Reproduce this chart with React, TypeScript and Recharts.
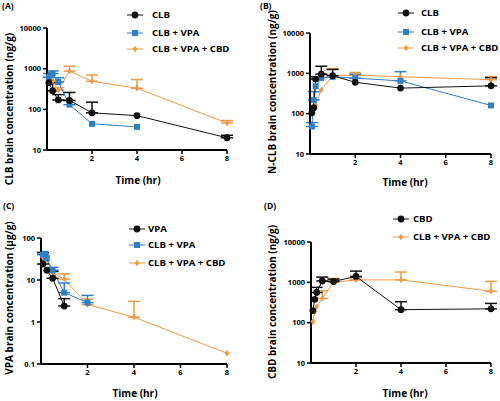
import { LineChart, Line, XAxis, YAxis, ErrorBar } from 'recharts'

const FONT = '"Open Sans", "Liberation Sans", sans-serif'
const BLACK = '#111111'
const BLUE = '#2f7fc6'
const ORANGE = '#ef9a45'

const xTicks = [2, 4, 6, 8]

// (A) CLB brain concentration, ng/g
const aClbT = [0.083, 0.25, 0.5, 1, 2, 4, 8]
const aClbV = [450, 285, 170, 165, 82, 70, 20]
const aClbUp = [0, 450, 230, 260, 150, 0, 23]
const aVpaT = [0.083, 0.167, 0.25, 0.5, 1, 2, 4]
const aVpaV = [620, 700, 760, 470, 130, 44, 37]
const aVpaUp = [760, 0, 880, 600, 165, 0, 0]
const aCbdT = [0.083, 0.25, 0.5, 1, 2, 4, 8]
const aCbdV = [700, 500, 300, 870, 490, 330, 46]
const aCbdUp = [0, 0, 340, 1150, 700, 540, 53]

// (B) N-CLB brain concentration, ng/g
const bClbT = [0.083, 0.167, 0.25, 0.5, 1, 2, 4, 8]
const bClbV = [105, 140, 720, 960, 870, 600, 430, 490]
const bClbUp = [0, 0, 820, 1500, 1250, 0, 0, 780]
const bVpaT = [0.083, 0.167, 0.25, 0.5, 1, 2, 4, 8]
const bVpaV = [48, 220, 480, 770, 820, 760, 650, 160]
const bVpaUp = [60, 350, 0, 0, 0, 950, 1100, 0]
const bCbdT = [0.083, 0.167, 0.25, 0.5, 1, 2, 4, 8]
const bCbdV = [100, 130, 165, 390, 880, 900, 820, 700]
const bCbdUp = [0, 0, 0, 0, 1300, 1050, 0, 830]

// (C) VPA brain concentration, µg/g
const cVpaT = [0.083, 0.25, 0.5, 1]
const cVpaV = [24, 17, 11, 2.4]
const cVpaUp = [45, 0, 16, 3.6]
const cClbVpaT = [0.083, 0.167, 0.25, 0.5, 1, 2]
const cClbVpaV = [40, 42, 33, 17, 5, 2.9]
const cClbVpaUp = [45, 0, 0, 20, 8.5, 4.3]
const cCbdT = [0.083, 0.167, 0.25, 0.5, 1, 2, 4, 8]
const cCbdV = [35, 38, 30, 15, 10.5, 2.6, 1.3, 0.18]
const cCbdUp = [0, 0, 0, 0, 14, 3.5, 3.1, 0]

// (D) CBD brain concentration, ng/g
const dCbdT = [0.083, 0.167, 0.25, 0.5, 1, 2, 4, 8]
const dCbdV = [200, 380, 560, 1080, 1050, 1400, 210, 220]
const dCbdUp = [0, 0, 750, 1350, 1200, 1900, 330, 300]
const dAllT = [0.083, 0.167, 0.25, 0.5, 1, 2, 4, 8]
const dAllV = [105, 190, 250, 400, 1000, 1150, 1150, 600]
const dAllUp = [0, 0, 0, 620, 1250, 1300, 1800, 1050]

type Shape = 'circle' | 'square' | 'diamond'
type Series = { name: string; color: string; shape: Shape; t: number[]; v: number[]; up: number[] }

const rows = (s: Series) =>
  s.t.map((t, i) => ({ t, v: s.v[i], err: s.up[i] ? [0, s.up[i] - s.v[i]] : null }))

function drawMarker(shape: Shape, color: string, cx: number, cy: number, key?: any) {
  if (shape === 'circle') return <circle key={key} cx={cx} cy={cy} r={3.4} fill={color} />
  if (shape === 'square') return <rect key={key} x={cx - 3} y={cy - 3} width={6} height={6} fill={color} />
  return <path key={key} d={`M${cx},${cy - 3.2}L${cx + 2.4},${cy}L${cx},${cy + 3.2}L${cx - 2.4},${cy}Z`} fill={color} />
}

const dotFn = (shape: Shape, color: string) => (p: any) => {
  if (p.cx == null || p.cy == null) return <g key={p.index} />
  return drawMarker(shape, color, p.cx, p.cy, p.index)
}

const clb = (t: number[], v: number[], up: number[]): Series => ({ name: 'CLB', color: BLACK, shape: 'circle', t, v, up })
const clbVpa = (t: number[], v: number[], up: number[]): Series => ({ name: 'CLB + VPA', color: BLUE, shape: 'square', t, v, up })
const all3 = (t: number[], v: number[], up: number[]): Series => ({ name: 'CLB + VPA + CBD', color: ORANGE, shape: 'diamond', t, v, up })

const textStyle = { position: 'absolute' as const, fontFamily: FONT, fontWeight: 700, color: '#000', whiteSpace: 'nowrap' as const }

function Panel(props: {
  x: number; y: number; tag: string; tagX: number
  plot: { l: number; r: number; t: number; b: number }
  yDomain: [number, number]; yTicks: number[]
  yLabel: string; yLabelPos: [number, number]; xLabelPos: [number, number]
  series: Series[]; legend: { lineX: number; textX: number; ys: number[] }
}) {
  const { x, y, plot, series, legend } = props
  const yw = 40
  return (
    <div style={{ position: 'absolute', left: x, top: y, width: 250, height: 200 }}>
      <LineChart
        width={250}
        height={200}
        margin={{ top: plot.t, right: 250 - plot.r, bottom: 200 - plot.b - 20, left: plot.l - yw }}
      >
        <XAxis
          type="number"
          dataKey="t"
          domain={[0, 8]}
          ticks={xTicks}
          height={20}
          axisLine={{ stroke: '#000', strokeWidth: 2 }}
          tickLine={{ stroke: '#000', strokeWidth: 1.5 }}
          tickSize={4}
          tick={{ fill: '#000', fontSize: 7.5, fontWeight: 700, fontFamily: FONT }}
        />
        <YAxis
          type="number"
          scale="log"
          domain={props.yDomain}
          ticks={props.yTicks}
          allowDataOverflow
          width={yw}
          axisLine={{ stroke: '#000', strokeWidth: 2 }}
          tickLine={{ stroke: '#000', strokeWidth: 1.5 }}
          tickSize={4}
          tick={{ fill: '#000', fontSize: 7.5, fontWeight: 700, fontFamily: FONT }}
        />
        {[...series].reverse().map((s) => (
          <Line
            key={s.name}
            data={rows(s)}
            dataKey="v"
            stroke={s.color}
            strokeWidth={1}
            dot={dotFn(s.shape, s.color)}
            activeDot={false}
            isAnimationActive={false}
          >
            <ErrorBar dataKey="err" direction="y" width={6} stroke={s.color} strokeWidth={1.5} />
          </Line>
        ))}
      </LineChart>
      <div style={{ ...textStyle, left: props.tagX, top: 0, fontSize: 8.5 }}>{props.tag}</div>
      <div
        style={{
          ...textStyle,
          left: props.yLabelPos[0],
          top: props.yLabelPos[1],
          fontSize: 10,
          transform: 'translate(-50%, -50%) rotate(-90deg)',
        }}
      >
        {props.yLabel}
      </div>
      <div style={{ ...textStyle, left: props.xLabelPos[0], top: props.xLabelPos[1], fontSize: 10, transform: 'translate(-50%, -50%)' }}>
        Time (hr)
      </div>
      {series.map((s, i) => (
        <div key={s.name} style={{ position: 'absolute', left: legend.lineX, top: legend.ys[i] - 6, height: 12, display: 'flex', alignItems: 'center' }}>
          <svg width={16} height={12} style={{ display: 'block' }}>
            <line x1={0} x2={16} y1={6} y2={6} stroke={s.color} strokeWidth={1} />
            {drawMarker(s.shape, s.color, 8, 6)}
          </svg>
          <span style={{ ...textStyle, position: 'absolute', left: legend.textX - legend.lineX, fontSize: 9.6, lineHeight: '12px' }}>{s.name}</span>
        </div>
      ))}
    </div>
  )
}

export default function App() {
  return (
    <div style={{ position: 'relative', width: 500, height: 401, background: '#fff', overflow: 'hidden' }}>
      <style>{`body{margin:0}`}</style>
      <Panel
        x={0} y={0} tag="(A)" tagX={2}
        plot={{ l: 47, r: 227, t: 28, b: 150 }}
        yDomain={[10, 10000]} yTicks={[10, 100, 1000, 10000]}
        yLabel="CLB brain concentration (ng/g)" yLabelPos={[9, 109]} xLabelPos={[138, 180]}
        series={[clb(aClbT, aClbV, aClbUp), clbVpa(aVpaT, aVpaV, aVpaUp), all3(aCbdT, aCbdV, aCbdUp)]}
        legend={{ lineX: 127, textX: 152, ys: [15, 33, 49] }}
      />
      <Panel
        x={250} y={0} tag="(B)" tagX={10}
        plot={{ l: 60, r: 241, t: 33, b: 154 }}
        yDomain={[10, 10000]} yTicks={[10, 100, 1000, 10000]}
        yLabel="N-CLB brain concentration (ng/g)" yLabelPos={[22, 92]} xLabelPos={[155, 182]}
        series={[clb(bClbT, bClbV, bClbUp), clbVpa(bVpaT, bVpaV, bVpaUp), all3(bCbdT, bCbdV, bCbdUp)]}
        legend={{ lineX: 148, textX: 171, ys: [13, 32, 48] }}
      />
      <Panel
        x={0} y={200} tag="(C)" tagX={3}
        plot={{ l: 41, r: 227, t: 38, b: 164 }}
        yDomain={[0.1, 100]} yTicks={[0.1, 1, 10, 100]}
        yLabel="VPA brain concentration (μg/g)" yLabelPos={[9, 98]} xLabelPos={[135, 193]}
        series={[
          { ...clb(cVpaT, cVpaV, cVpaUp), name: 'VPA' },
          clbVpa(cClbVpaT, cClbVpaV, cClbVpaUp),
          all3(cCbdT, cCbdV, cCbdUp),
        ]}
        legend={{ lineX: 129, textX: 148, ys: [29, 45, 63] }}
      />
      <Panel
        x={250} y={200} tag="(D)" tagX={14}
        plot={{ l: 61, r: 241, t: 42, b: 163 }}
        yDomain={[10, 10000]} yTicks={[10, 100, 1000, 10000]}
        yLabel="CBD brain concentration (ng/g)" yLabelPos={[22, 102]} xLabelPos={[155, 193]}
        series={[{ ...clb(dCbdT, dCbdV, dCbdUp), name: 'CBD' }, all3(dAllT, dAllV, dAllUp)]}
        legend={{ lineX: 143, textX: 163, ys: [19, 37] }}
      />
    </div>
  )
}
